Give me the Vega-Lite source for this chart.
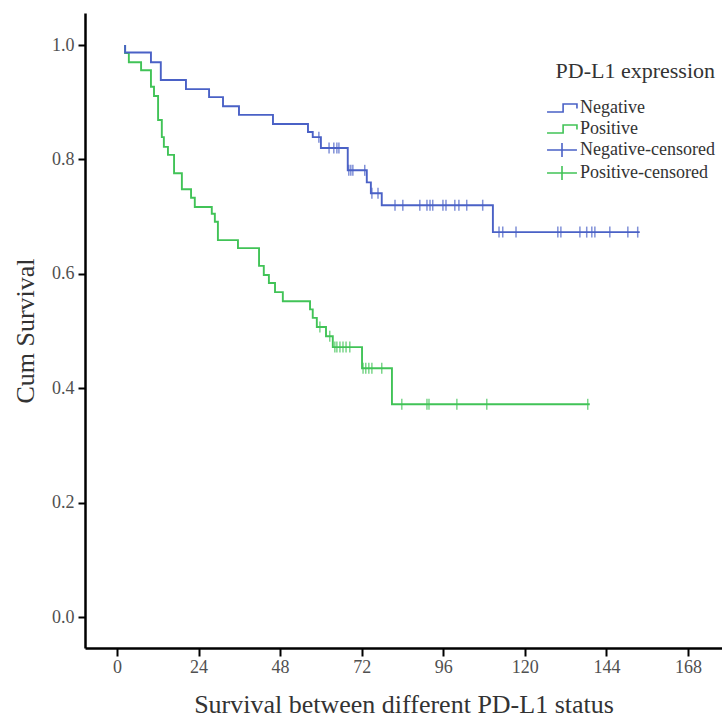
{
  "$schema": "https://vega.github.io/schema/vega-lite/v6.json",
  "width": 637,
  "height": 635,
  "autosize": {"type": "none"},
  "padding": {"left": 85, "top": 13, "right": 0, "bottom": 73},
  "background": "white",
  "config": {"view": {"stroke": null}, "font": "Liberation Serif"},
  "datasets": {
    "curves": [
      {"grp": "Positive", "i": 0, "t": 2.4, "s": 1.0},
      {"grp": "Positive", "i": 1, "t": 2.4, "s": 0.986},
      {"grp": "Positive", "i": 2, "t": 3.5, "s": 0.970},
      {"grp": "Positive", "i": 3, "t": 7.1, "s": 0.956},
      {"grp": "Positive", "i": 4, "t": 10.0, "s": 0.927},
      {"grp": "Positive", "i": 5, "t": 10.9, "s": 0.911},
      {"grp": "Positive", "i": 6, "t": 12.1, "s": 0.869},
      {"grp": "Positive", "i": 7, "t": 13.2, "s": 0.839},
      {"grp": "Positive", "i": 8, "t": 13.8, "s": 0.822},
      {"grp": "Positive", "i": 9, "t": 15.0, "s": 0.808},
      {"grp": "Positive", "i": 10, "t": 16.8, "s": 0.776},
      {"grp": "Positive", "i": 11, "t": 19.1, "s": 0.748},
      {"grp": "Positive", "i": 12, "t": 21.8, "s": 0.733},
      {"grp": "Positive", "i": 13, "t": 22.9, "s": 0.717},
      {"grp": "Positive", "i": 14, "t": 27.9, "s": 0.705},
      {"grp": "Positive", "i": 15, "t": 28.8, "s": 0.691},
      {"grp": "Positive", "i": 16, "t": 29.7, "s": 0.659},
      {"grp": "Positive", "i": 17, "t": 35.6, "s": 0.645},
      {"grp": "Positive", "i": 18, "t": 41.8, "s": 0.614},
      {"grp": "Positive", "i": 19, "t": 43.2, "s": 0.598},
      {"grp": "Positive", "i": 20, "t": 44.7, "s": 0.584},
      {"grp": "Positive", "i": 21, "t": 46.5, "s": 0.568},
      {"grp": "Positive", "i": 22, "t": 48.8, "s": 0.552},
      {"grp": "Positive", "i": 23, "t": 56.8, "s": 0.538},
      {"grp": "Positive", "i": 24, "t": 57.6, "s": 0.523},
      {"grp": "Positive", "i": 25, "t": 58.8, "s": 0.507},
      {"grp": "Positive", "i": 26, "t": 61.5, "s": 0.491},
      {"grp": "Positive", "i": 27, "t": 63.5, "s": 0.472},
      {"grp": "Positive", "i": 28, "t": 72.1, "s": 0.435},
      {"grp": "Positive", "i": 29, "t": 80.9, "s": 0.372},
      {"grp": "Positive", "i": 30, "t": 139.1, "s": 0.372},
      {"grp": "Negative", "i": 0, "t": 2.4, "s": 1.0},
      {"grp": "Negative", "i": 1, "t": 2.4, "s": 0.987},
      {"grp": "Negative", "i": 2, "t": 10.0, "s": 0.970},
      {"grp": "Negative", "i": 3, "t": 12.9, "s": 0.939},
      {"grp": "Negative", "i": 4, "t": 20.3, "s": 0.923},
      {"grp": "Negative", "i": 5, "t": 27.1, "s": 0.909},
      {"grp": "Negative", "i": 6, "t": 31.2, "s": 0.893},
      {"grp": "Negative", "i": 7, "t": 35.9, "s": 0.878},
      {"grp": "Negative", "i": 8, "t": 45.9, "s": 0.862},
      {"grp": "Negative", "i": 9, "t": 56.2, "s": 0.848},
      {"grp": "Negative", "i": 10, "t": 57.6, "s": 0.839},
      {"grp": "Negative", "i": 11, "t": 60.0, "s": 0.820},
      {"grp": "Negative", "i": 12, "t": 67.9, "s": 0.781},
      {"grp": "Negative", "i": 13, "t": 73.5, "s": 0.760},
      {"grp": "Negative", "i": 14, "t": 74.7, "s": 0.741},
      {"grp": "Negative", "i": 15, "t": 77.9, "s": 0.720},
      {"grp": "Negative", "i": 16, "t": 110.6, "s": 0.673},
      {"grp": "Negative", "i": 17, "t": 153.8, "s": 0.673}
    ],
    "censored": [
      {"grp": "Negative-censored", "t": 59.4, "s": 0.839},
      {"grp": "Negative-censored", "t": 62.4, "s": 0.820},
      {"grp": "Negative-censored", "t": 63.8, "s": 0.820},
      {"grp": "Negative-censored", "t": 64.7, "s": 0.820},
      {"grp": "Negative-censored", "t": 65.3, "s": 0.820},
      {"grp": "Negative-censored", "t": 68.2, "s": 0.781},
      {"grp": "Negative-censored", "t": 68.8, "s": 0.781},
      {"grp": "Negative-censored", "t": 69.4, "s": 0.781},
      {"grp": "Negative-censored", "t": 72.9, "s": 0.781},
      {"grp": "Negative-censored", "t": 75.0, "s": 0.741},
      {"grp": "Negative-censored", "t": 76.8, "s": 0.741},
      {"grp": "Negative-censored", "t": 81.8, "s": 0.720},
      {"grp": "Negative-censored", "t": 84.1, "s": 0.720},
      {"grp": "Negative-censored", "t": 89.1, "s": 0.720},
      {"grp": "Negative-censored", "t": 91.2, "s": 0.720},
      {"grp": "Negative-censored", "t": 92.1, "s": 0.720},
      {"grp": "Negative-censored", "t": 92.9, "s": 0.720},
      {"grp": "Negative-censored", "t": 95.9, "s": 0.720},
      {"grp": "Negative-censored", "t": 96.8, "s": 0.720},
      {"grp": "Negative-censored", "t": 99.4, "s": 0.720},
      {"grp": "Negative-censored", "t": 100.6, "s": 0.720},
      {"grp": "Negative-censored", "t": 102.9, "s": 0.720},
      {"grp": "Negative-censored", "t": 107.6, "s": 0.720},
      {"grp": "Negative-censored", "t": 112.4, "s": 0.673},
      {"grp": "Negative-censored", "t": 113.5, "s": 0.673},
      {"grp": "Negative-censored", "t": 117.4, "s": 0.673},
      {"grp": "Negative-censored", "t": 129.7, "s": 0.673},
      {"grp": "Negative-censored", "t": 130.6, "s": 0.673},
      {"grp": "Negative-censored", "t": 136.2, "s": 0.673},
      {"grp": "Negative-censored", "t": 138.2, "s": 0.673},
      {"grp": "Negative-censored", "t": 139.7, "s": 0.673},
      {"grp": "Negative-censored", "t": 140.6, "s": 0.673},
      {"grp": "Negative-censored", "t": 145.0, "s": 0.673},
      {"grp": "Negative-censored", "t": 150.3, "s": 0.673},
      {"grp": "Negative-censored", "t": 153.2, "s": 0.673},
      {"grp": "Positive-censored", "t": 59.7, "s": 0.507},
      {"grp": "Positive-censored", "t": 62.6, "s": 0.491},
      {"grp": "Positive-censored", "t": 64.1, "s": 0.472},
      {"grp": "Positive-censored", "t": 64.7, "s": 0.472},
      {"grp": "Positive-censored", "t": 65.6, "s": 0.472},
      {"grp": "Positive-censored", "t": 66.5, "s": 0.472},
      {"grp": "Positive-censored", "t": 67.4, "s": 0.472},
      {"grp": "Positive-censored", "t": 68.5, "s": 0.472},
      {"grp": "Positive-censored", "t": 72.4, "s": 0.435},
      {"grp": "Positive-censored", "t": 73.2, "s": 0.435},
      {"grp": "Positive-censored", "t": 74.1, "s": 0.435},
      {"grp": "Positive-censored", "t": 75.0, "s": 0.435},
      {"grp": "Positive-censored", "t": 77.9, "s": 0.435},
      {"grp": "Positive-censored", "t": 83.8, "s": 0.372},
      {"grp": "Positive-censored", "t": 91.2, "s": 0.372},
      {"grp": "Positive-censored", "t": 91.8, "s": 0.372},
      {"grp": "Positive-censored", "t": 100.0, "s": 0.372},
      {"grp": "Positive-censored", "t": 108.8, "s": 0.372},
      {"grp": "Positive-censored", "t": 138.5, "s": 0.372}
    ]
  },
  "layer": [
    {
      "data": {"name": "curves"},
      "mark": {"type": "line", "interpolate": "step-after", "strokeWidth": 1.9},
      "encoding": {
        "x": {
          "field": "t", "type": "quantitative",
          "scale": {"domain": [-9.4, 178], "nice": false, "zero": false},
          "axis": {
            "values": [0, 24, 48, 72, 96, 120, 144, 168],
            "grid": false,
            "domainColor": "#000000", "domainWidth": 2.5,
            "tickColor": "#000000", "tickWidth": 2, "tickSize": 8,
            "labelFont": "Liberation Serif", "labelFontSize": 18, "labelColor": "#505050", "labelPadding": 2,
            "title": "Survival between different PD-L1 status",
            "titleFont": "Liberation Serif", "titleFontSize": 26, "titleFontWeight": "normal", "titleColor": "#333333", "titlePadding": 15
          }
        },
        "y": {
          "field": "s", "type": "quantitative",
          "scale": {"domain": [-0.054, 1.056], "nice": false, "zero": false},
          "axis": {
            "values": [0, 0.2, 0.4, 0.6, 0.8, 1.0],
            "format": ".1f",
            "grid": false,
            "domainColor": "#000000", "domainWidth": 2.5,
            "tickColor": "#000000", "tickWidth": 2, "tickSize": 7,
            "labelFont": "Liberation Serif", "labelFontSize": 18, "labelColor": "#505050", "labelPadding": 4,
            "title": "Cum Survival",
            "titleFont": "Liberation Serif", "titleFontSize": 26, "titleFontWeight": "normal", "titleColor": "#333333", "titlePadding": 13
          }
        },
        "color": {
          "field": "grp", "type": "nominal",
          "scale": {
            "domain": ["Negative", "Positive", "Negative-censored", "Positive-censored"],
            "range": ["#4a61c6", "#41c357", "#4a61c6", "#41c357"]
          },
          "legend": {
            "orient": "none", "legendX": 465, "legendY": 48,
            "title": "PD-L1 expression",
            "titleFont": "Liberation Serif", "titleFontSize": 22, "titleFontWeight": "normal", "titleColor": "#333333",
            "titleAnchor": "end", "titlePadding": 13,
            "labelFont": "Liberation Serif", "labelFontSize": 18, "labelColor": "#333333", "labelOffset": 6,
            "symbolSize": 484, "rowPadding": 0, "symbolStrokeWidth": 1.6, "symbolFillColor": "transparent",
            "encode": {
              "symbols": {
                "update": {
                  "shape": {"signal": "(datum.value == 'Negative' || datum.value == 'Positive') ? 'M-1.36,0.36H0.1V-0.36H1.36V0.05' : 'M-1.36,0H1.36M0,-0.64V0.64'"},
                  "fill": {"value": "transparent"},
                  "fillOpacity": {"value": 0},
                  "stroke": {"signal": "scale('color', datum.value)"},
                  "strokeWidth": {"value": 1.6}
                }
              }
            }
          }
        },
        "order": {"field": "i", "type": "quantitative"}
      }
    },
    {
      "data": {"name": "censored"},
      "mark": {"type": "tick", "orient": "vertical", "size": 11, "thickness": 1.5},
      "encoding": {
        "x": {"field": "t", "type": "quantitative"},
        "y": {"field": "s", "type": "quantitative"},
        "color": {"field": "grp", "type": "nominal"}
      }
    }
  ]
}
